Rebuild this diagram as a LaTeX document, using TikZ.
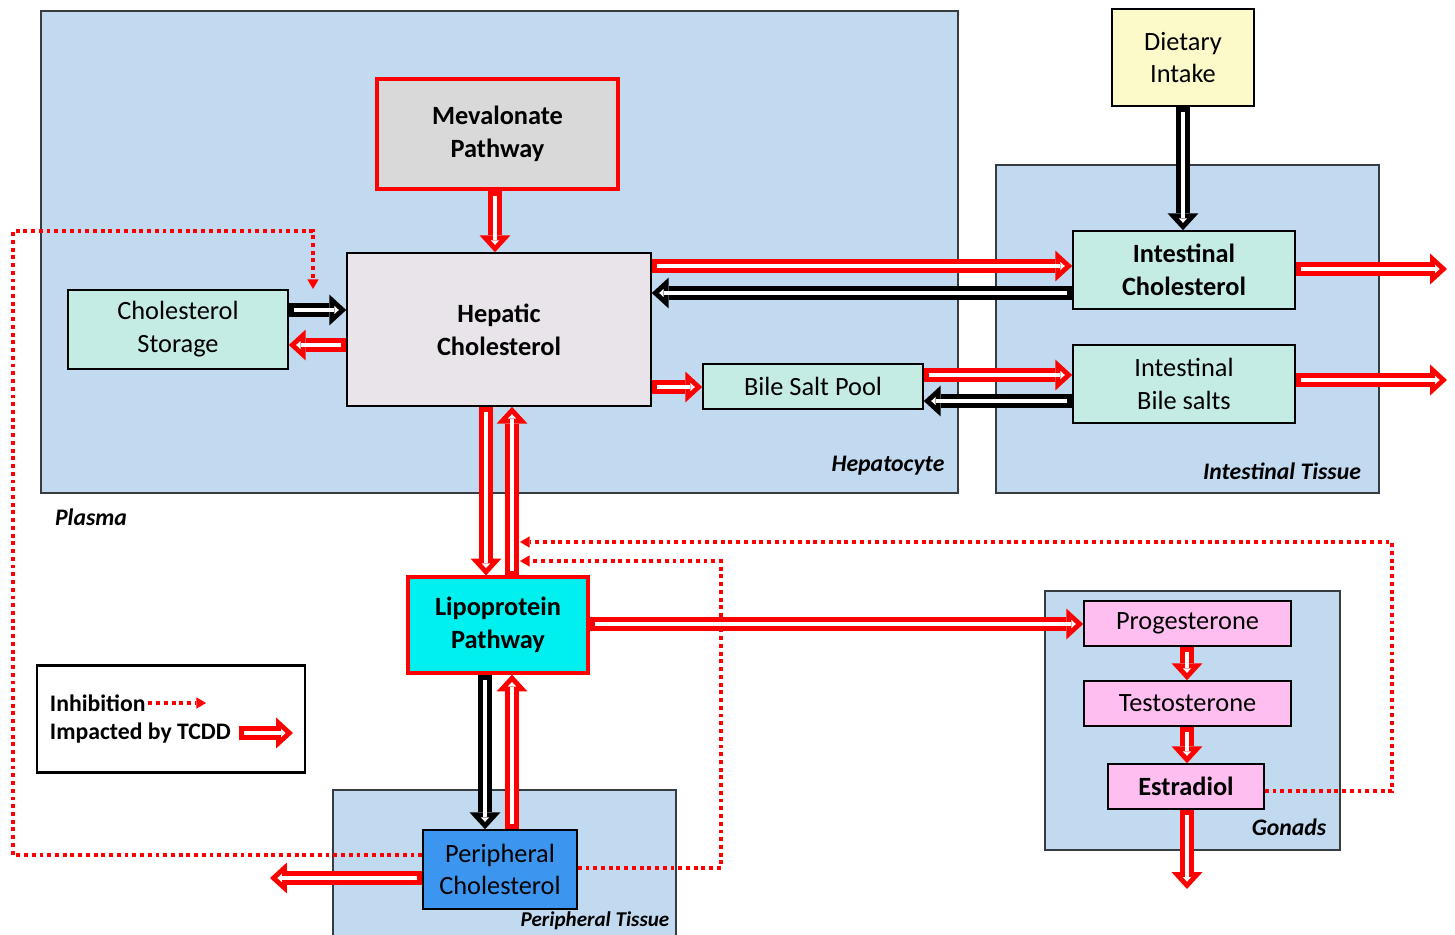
\documentclass[tikz,border=0pt]{standalone}
\usepackage{fontspec}
\setmainfont{Carlito}
\usetikzlibrary{arrows.meta,calc}

\definecolor{regionblue}{RGB}{194,218,240}
\definecolor{regionedge}{RGB}{55,60,65}
\definecolor{tealbox}{RGB}{196,236,228}
\definecolor{hepfill}{RGB}{232,228,234}
\definecolor{mevfill}{RGB}{217,217,217}
\definecolor{dietfill}{RGB}{252,250,200}
\definecolor{lipofill}{RGB}{0,240,240}
\definecolor{perifill}{RGB}{60,150,240}
\definecolor{pinkfill}{RGB}{255,190,240}

% one drawing unit = 0.02cm
\def\unitlen{0.02cm}

\begin{document}
\begin{tikzpicture}[x=0.02cm, y=-0.02cm,
  box/.style={draw=black, line width=0.9pt, inner sep=0pt, align=center,
    font=\fontsize{15}{18.7}\selectfont},
  bold/.style={font=\fontsize{15}{18.7}\selectfont\bfseries},
  size/.style 2 args={minimum width=#1*\unitlen, minimum height=#2*\unitlen},
  redbox/.style={box, draw=red, line width=1.8pt},
  region/.style={draw=regionedge, fill=regionblue, line width=0.9pt},
  regionlabel/.style={inner sep=0pt, font=\fontsize{13.5}{16}\selectfont\bfseries\itshape},
  legendtxt/.style={inner sep=1.5pt, anchor=west, font=\fontsize{13.5}{16}\selectfont\bfseries},
  tcdd/.style={draw=white, line width=2.8pt, shorten <=2.8pt, shorten >=4.2pt,
    -{Triangle[length=2.6pt,width=4.8pt,line width=0pt]},
    preaction={draw=#1, line width=8.5pt, shorten <=0pt, shorten >=0pt,
      -{Triangle[length=9.6pt,width=17.6pt,line width=0pt]}}},
  tcdd/.default=red,
  inhib/.style={draw=red, line width=2.2pt, dash pattern=on 2.2pt off 2.2pt,
    -{Triangle[length=5.5pt,width=6.5pt,line width=0pt]}}
]
\useasboundingbox (0,0) rectangle (1455,934);
\fill[white] (0,0) rectangle (1455,934);

% tissue compartments
\draw[region] (41,11) rectangle (958,493);
\draw[region] (996,165) rectangle (1379,493);
\draw[region] (1045,591) rectangle (1340,850);
\draw[region] (333,790) rectangle (676,940);

\node[regionlabel] (lblplasma) at (91,517) {Plasma};
\node[regionlabel] (lblhep) at (888,466) {Hepatocyte};
\node[regionlabel] (lblint) at (1282,471) {Intestinal Tissue};
\node[regionlabel] (lblgon) at (1289,827) {Gonads};
\node[regionlabel, font=\fontsize{12}{14}\selectfont\bfseries\itshape] (lblper) at (595,921) {Peripheral Tissue};

% pools and pathways
\node[box, fill=dietfill, size={142}{97}] (diet) at (1183,57.5) {Dietary\\Intake};
\node[redbox, bold, fill=mevfill, size={241}{110}] (mev) at (497.5,134) {Mevalonate\\Pathway};
\node[box, bold, fill=hepfill, size={304}{153}] (hep) at (499,329.5) {Hepatic\\Cholesterol};
\node[box, fill=tealbox, size={220}{79}] (storage) at (178,329.5) {Cholesterol\\Storage};
\node[box, fill=tealbox, size={220}{45}] (bile) at (813,386.5) {Bile Salt Pool};
\node[box, bold, fill=tealbox, size={222}{78}] (intchol) at (1184,270) {Intestinal\\Cholesterol};
\node[box, fill=tealbox, size={222}{78}] (intbile) at (1184,384) {Intestinal\\Bile salts};
\node[redbox, bold, fill=lipofill, size={180}{96}] (lipo) at (498,625) {Lipoprotein\\Pathway};
\node[box, fill=perifill, size={154}{79}] (peri) at (500,869.5) {Peripheral\\Cholesterol};
\node[box, fill=pinkfill, size={207}{45}] (prog) at (1187.5,623.5) {Progesterone};
\node[box, fill=pinkfill, size={207}{45}] (testo) at (1187.5,703.5) {Testosterone};
\node[box, bold, fill=pinkfill, size={156}{45}] (estr) at (1186,786.5) {Estradiol};

% free ends
\coordinate (outIC) at (1447,269);
\coordinate (outIB) at (1447,380);
\coordinate (outPC) at (270,878);
\coordinate (outE) at (1187,889);
\coordinate (inhStore) at (313,289);
\coordinate (inhUpA) at (520,561);
\coordinate (inhUpB) at (520,542);

% inhibition feedback
\draw[inhib] (peri.west |- 0,855) -- (13,855) -- (13,231) -- (313,231) -- (inhStore);
\draw[inhib] (peri.east |- 0,868) -- (721,868) -- (721,561) -- (inhUpA);
\draw[inhib] (estr.east |- 0,791) -- (1392,791) -- (1392,542) -- (inhUpB);

% fluxes
\draw[tcdd] (495,0 |- mev.south) -- (495,0 |- hep.north);
\draw[tcdd=black] (storage.east |- 0,310) -- (hep.west |- 0,310);
\draw[tcdd] (hep.west |- 0,345) -- (storage.east |- 0,345);
\draw[tcdd] (hep.east |- 0,266) -- (intchol.west |- 0,266);
\draw[tcdd=black] (intchol.west |- 0,293) -- (hep.east |- 0,293);
\draw[tcdd] (hep.east |- 0,387) -- (bile.west |- 0,387);
\draw[tcdd] (bile.east |- 0,375) -- (intbile.west |- 0,375);
\draw[tcdd=black] (intbile.west |- 0,401) -- (bile.east |- 0,401);
\draw[tcdd=black] (1183,0 |- diet.south) -- (1183,0 |- intchol.north);
\draw[tcdd] (intchol.east |- 0,269) -- (outIC);
\draw[tcdd] (intbile.east |- 0,380) -- (outIB);
\draw[tcdd] (486,0 |- hep.south) -- (486,0 |- lipo.north);
\draw[tcdd] (512,0 |- lipo.north) -- (512,0 |- hep.south);
\draw[tcdd] (lipo.east |- 0,624) -- (prog.west |- 0,624);
\draw[tcdd=black] (485,0 |- lipo.south) -- (485,0 |- peri.north);
\draw[tcdd] (512,0 |- peri.north) -- (512,0 |- lipo.south);
\draw[tcdd] (peri.west |- 0,878) -- (outPC);
\draw[tcdd] (1187,0 |- prog.south) -- (1187,0 |- testo.north);
\draw[tcdd] (1187,0 |- testo.south) -- (1187,0 |- estr.north);
\draw[tcdd] (1187,0 |- estr.south) -- (outE);

% legend
\node[draw=black, line width=1.7pt, fill=white, inner sep=0pt, size={268}{107}] (legend) at (171,718.5) {};
\node[legendtxt] (legInh) at (47,703) {Inhibition};
\node[legendtxt] (legTcdd) at (47,733) {Impacted by TCDD};
\coordinate (legInhEnd) at (206,703);
\coordinate (legTcddEnd) at (293,733);
\draw[inhib] (legInh.east) -- (legInhEnd);
\draw[tcdd] ($(legTcdd.east)+(5,0)$) -- (legTcddEnd);
\end{tikzpicture}
\end{document}
